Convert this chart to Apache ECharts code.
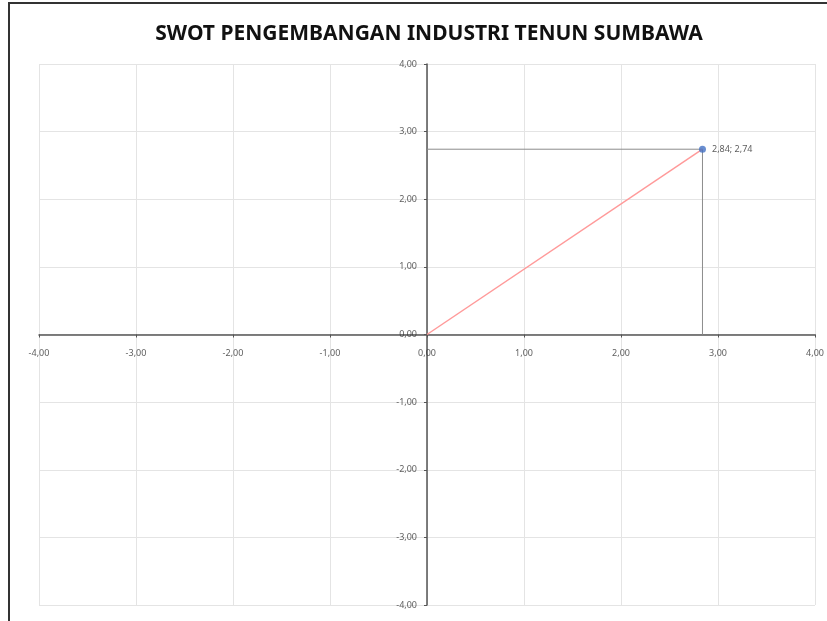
<!DOCTYPE html>
<html>
<head>
<meta charset="utf-8">
<script src="https://cdn.jsdelivr.net/npm/echarts@6/dist/echarts.min.js"></script>
<style>
  html, body { margin: 0; padding: 0; background: #fff; }
  #main { width: 827px; height: 621px; }
</style>
</head>
<body>
<div id="main"></div>
<script>
// data
const titleText = 'SWOT PENGEMBANGAN INDUSTRI TENUN SUMBAWA';
const axisMin = -4;
const axisMax = 4;
const xTicks = [-4, -3, -2, -1, 0, 1, 2, 3, 4];
const yTicks = [-4, -3, -2, -1, 0, 1, 2, 3, 4];
const pointX = 2.84;
const pointY = 2.74;

// format angka pakai koma
function fmt(v) {
    return v.toFixed(2).replace('.', ',');
}

const chart = echarts.init(document.getElementById('main'));

const axisCommon = {
    type: 'value',
    min: axisMin,
    max: axisMax,
    interval: 1,
    axisLine: { onZero: true, lineStyle: { color: '#555', width: 1.5 } },
    axisTick: { show: true, inside: false, length: 3, lineStyle: { color: '#555' } },
    splitLine: { show: true, lineStyle: { color: '#e4e4e4', width: 1 } },
    axisLabel: { show: false }
};

const tickLabel = {
    show: true,
    fontSize: 9,
    color: '#333',
    fontFamily: 'Noto Sans'
};

const option = {
    animation: false,
    title: {
        text: titleText,
        left: 424,
        textAlign: 'center',
        top: 19,
        textStyle: { fontSize: 21, fontWeight: 'bold', color: '#111', fontFamily: 'Noto Sans' }
    },
    graphic: [{
        type: 'rect',
        shape: { x: 9, y: 3, width: 840, height: 640 },
        style: { fill: 'none', stroke: '#333', lineWidth: 2 },
        silent: true
    }],
    grid: { left: 39, right: 12, top: 64, bottom: 16 },
    xAxis: axisCommon,
    yAxis: axisCommon,
    series: [
        {
            // label sumbu x, ikut garis nol
            type: 'scatter',
            data: xTicks.map(v => [v, 0]),
            symbolSize: 0,
            silent: true,
            label: Object.assign({}, tickLabel, {
                position: 'bottom',
                distance: 14,
                formatter: p => fmt(p.value[0])
            })
        },
        {
            // label sumbu y
            type: 'scatter',
            data: yTicks.map(v => [0, v]),
            symbolSize: 0,
            silent: true,
            label: Object.assign({}, tickLabel, {
                position: 'left',
                distance: 10,
                formatter: p => fmt(p.value[1])
            })
        },
        {
            // garis bantu ke sumbu
            type: 'line',
            data: [[0, pointY], [pointX, pointY], [pointX, 0]],
            symbol: 'none',
            lineStyle: { color: '#8c8c8c', width: 1 },
            z: 2
        },
        {
            // garis dari titik nol
            type: 'line',
            data: [[0, 0], [pointX, pointY]],
            symbol: 'none',
            lineStyle: { color: '#ff9a9a', width: 1.5 },
            z: 3
        },
        {
            type: 'scatter',
            data: [[pointX, pointY]],
            symbolSize: 7,
            itemStyle: { color: '#4472c4' },
            label: {
                show: true,
                position: 'right',
                distance: 6,
                fontSize: 9,
                color: '#333',
                fontFamily: 'Noto Sans',
                formatter: function (p) {
                    return fmt(p.value[0]) + '; ' + fmt(p.value[1]);
                }
            },
            z: 4
        }
    ]
};

chart.setOption(option);
</script>
</body>
</html>
